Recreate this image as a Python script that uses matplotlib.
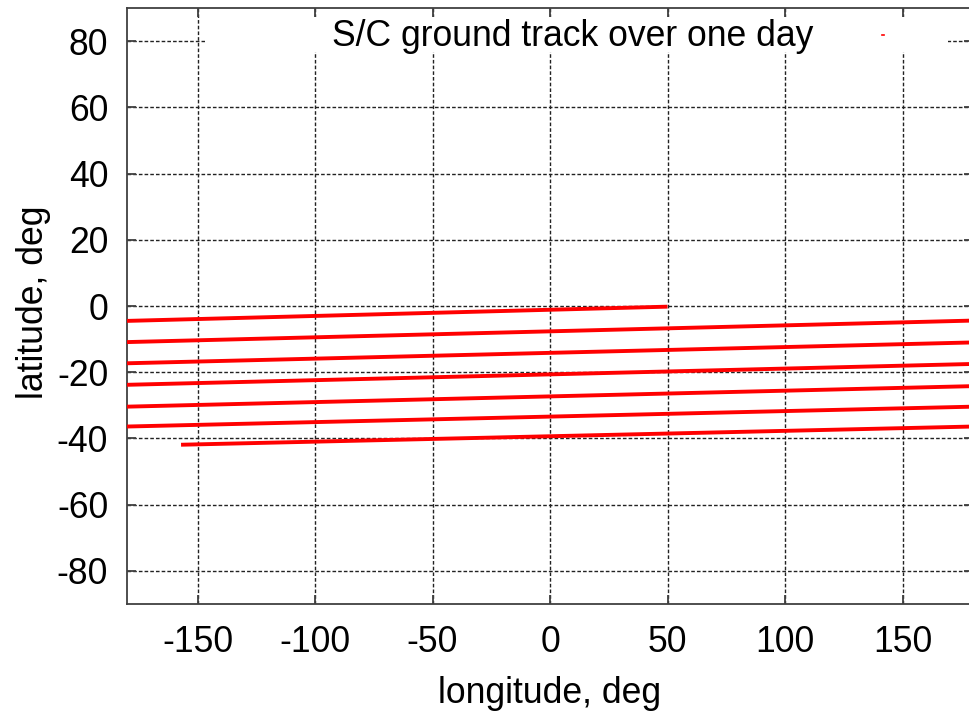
import matplotlib
matplotlib.use("Agg")
import matplotlib.pyplot as plt
from matplotlib.patches import Rectangle
from matplotlib.lines import Line2D

plt.rcParams["font.family"] = ["Liberation Sans", "DejaVu Sans"]
plt.rcParams["axes.unicode_minus"] = False

# Ground track, one pass per row: eastern end -> western end (deg)
pass_lon_east = [50, 180, 180, 180, 180, 180, 180]
pass_lat_east = [-0.2, -4.4, -11.0, -17.5, -24.2, -30.4, -36.4]
pass_lon_west = [-180, -180, -180, -180, -180, -180, -157]
pass_lat_west = [-4.5, -10.9, -17.3, -23.8, -30.4, -36.4, -41.9]

x_ticks = [-150, -100, -50, 0, 50, 100, 150]
y_ticks = [-80, -60, -40, -20, 0, 20, 40, 60, 80]

title_text = "S/C ground track over one day"
x_label = "longitude, deg"
y_label = "latitude, deg"

FS = 25.6
W, H = 969, 713
fig = plt.figure(figsize=(W / 100, H / 100), dpi=100)


def fx(px):
    return px / W


def fy(py):
    return 1 - py / H


ax = fig.add_axes([fx(127), fy(604), (973 - 127) / W, (604 - 8) / H])
ax.set_xlim(-180, 180)
ax.set_ylim(-90, 90)
ax.set_xticks(x_ticks)
ax.set_yticks(y_ticks)
ax.set_axisbelow(True)

for s in ax.spines.values():
    s.set_color("#404040")
    s.set_linewidth(1.3)

ax.tick_params(axis="both", direction="in", length=6.5, width=1.3,
               color="#404040", top=True, right=True, labelsize=FS)
ax.tick_params(axis="x", pad=15.0)
ax.tick_params(axis="y", pad=13.5)

ax.grid(True, color="#222222", linestyle=(0, (2.6, 1.5)), linewidth=1.0)

for lon_e, lat_e, lon_w, lat_w in zip(pass_lon_east, pass_lat_east,
                                      pass_lon_west, pass_lat_west):
    ax.plot([lon_e, lon_w], [lat_e, lat_w], color="red", lw=2.8,
            solid_capstyle="butt", zorder=3)

# opaque key box with the entry text and its sample
ax.add_patch(Rectangle((fx(205), fy(52)), fx(948) - fx(205), fy(17) - fy(52),
                       transform=fig.transFigure, facecolor="white",
                       edgecolor="none", zorder=1, clip_on=False))
fig.text(fx(332), fy(46), title_text, fontsize=FS, ha="left", va="baseline",
         color="black")
fig.add_artist(Line2D([fx(882), fx(884)], [fy(35), fy(35)], color="red",
                      lw=1.2))

fig.text(fx(550), fy(703), x_label, fontsize=FS, ha="center", va="baseline")
fig.text(fx(33.5), fy(302), y_label, fontsize=FS, ha="center", va="center",
         rotation=90)

fig.savefig("out.png", dpi=100)
